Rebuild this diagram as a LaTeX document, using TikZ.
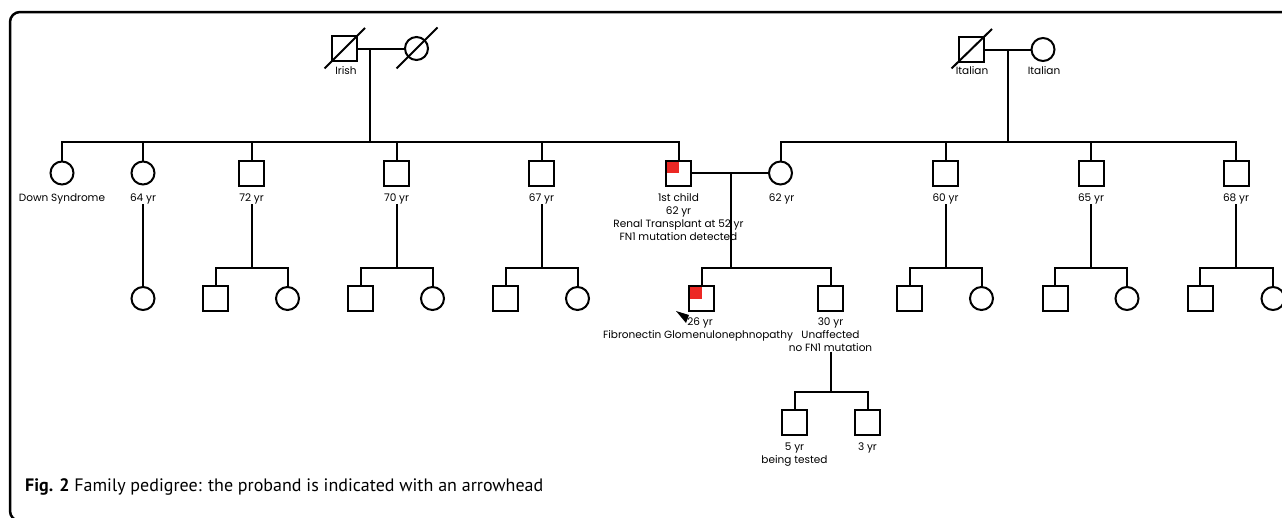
\documentclass[tikz,border=0pt]{standalone}
\usepackage{fontspec}
\setmainfont{Poppins}
\newfontfamily\capfont{PT Sans}
\usetikzlibrary{calc}
\definecolor{pedred}{RGB}{236,40,36}
\begin{document}
\begin{tikzpicture}[x=1pt,y=-1pt,
  conn/.style={line width=2pt},
  male/.style={draw,line width=2pt,rectangle,minimum size=25pt,inner sep=0pt,outer sep=0pt},
  female/.style={draw,line width=2pt,circle,minimum size=23pt,inner sep=0pt,outer sep=0pt},
  affq/.style={path picture={\fill[pedred] (path picture bounding box.north west) rectangle (path picture bounding box.center);}},
  lbl/.style={font=\fontsize{10.5}{13}\selectfont,inner sep=0pt,align=center,anchor=base},
]
\useasboundingbox (0,0) rectangle (1282,517);
\clip (0,0) rectangle (1282,517);
\fill[white] (0,0) rectangle (1282,517);
% frame
\draw[line width=2.5pt,rounded corners=10pt] (1300,521) -- (10,521) -- (10,12) -- (1300,12);

% generation I
\node[male] (IrM) at (344.5,48.5) {};
\node[female] (IrF) at (416.5,48.5) {};
\draw[conn] ($(IrM)+(-20,20)$) -- ($(IrM)+(20.5,-20.5)$);
\draw[conn] ($(IrF)+(-20,20)$) -- ($(IrF)+(21,-21)$);
\node[lbl] (lIr) at (346,74.5) {Irish};
\draw[conn] (IrM) -- (IrF);
\coordinate (IrC) at (370,48.5);

\node[male] (ItM) at (971.5,49.5) {};
\node[female] (ItF) at (1043,49.5) {};
\draw[conn] ($(ItM)+(-20,19)$) -- ($(ItM)+(20.5,-20.5)$);
\node[lbl] (lIt1) at (972,74.5) {Italian};
\node[lbl] (lIt2) at (1044,74.5) {Italian};
\draw[conn] (ItM) -- (ItF);
\coordinate (ItC) at (1008,49.5);

% generation II
\coordinate (s1) at (0,142);
\node[female] (c1) at (62,173) {};
\node[female] (c2) at (143,173) {};
\node[male] (c3) at (251.5,173) {};
\node[male] (c4) at (396.5,173) {};
\node[male] (c5) at (541.5,173) {};
\node[male,affq] (c6) at (678.5,173) {};
\node[female] (sp) at (780.5,173) {};
\node[male] (c7) at (945.5,173) {};
\node[male] (c8) at (1091,173) {};
\node[male] (c9) at (1236,173) {};

\draw[conn] (IrC) -- (IrC|-s1);
\draw[conn] (c1.north) -- (c1.north|-s1) -- (c6.north|-s1) -- (c6.north);
\foreach \n in {c2,c3,c4,c5} \draw[conn] (\n.north) -- (\n.north|-s1);
\draw[conn] (ItC) -- (ItC|-s1);
\draw[conn] (sp.north) -- (sp.north|-s1) -- (c9.north|-s1) -- (c9.north);
\foreach \n in {c7,c8} \draw[conn] (\n.north) -- (\n.north|-s1);
\draw[conn] (c6) -- (sp);
\coordinate (m1) at (731,173);

\node[lbl] (l1) at (62,201.5) {Down Syndrome};
\node[lbl] (l2) at (143,201.5) {64 yr};
\node[lbl] (l3) at (251.5,201.5) {72 yr};
\node[lbl] (l4) at (396.5,201.5) {70 yr};
\node[lbl] (l5) at (541.5,201.5) {67 yr};
\node[lbl] (l6) at (678.5,240.5) {1st child\\62 yr\\Renal Transplant at 52 yr\\FN1 mutation detected};
\node[lbl] (lsp) at (781.5,201.5) {62 yr};
\node[lbl] (l7) at (945.5,201.5) {60 yr};
\node[lbl] (l8) at (1091,201.5) {65 yr};
\node[lbl] (l9) at (1236,201.5) {68 yr};

% generation III
\coordinate (s2) at (0,268);
\node[female] (g2) at (143,298.5) {};
\node[male] (g3a) at (215.5,298.5) {};
\node[female] (g3b) at (287.5,298.5) {};
\node[male] (g4a) at (360.5,298.5) {};
\node[female] (g4b) at (432.5,298.5) {};
\node[male] (g5a) at (505.5,298.5) {};
\node[female] (g5b) at (577.5,298.5) {};
\node[male,affq] (p) at (701.5,298.5) {};
\node[male] (u) at (830.5,298.5) {};
\node[male] (g7a) at (909.5,298.5) {};
\node[female] (g7b) at (981.5,298.5) {};
\node[male] (g8a) at (1055,298.5) {};
\node[female] (g8b) at (1127,298.5) {};
\node[male] (g9a) at (1200,298.5) {};
\node[female] (g9b) at (1273,298.5) {};

\draw[conn] (l2.south-|c2) -- (g2.north);
\foreach \a/\b/\c/\l in {c3/g3a/g3b/l3,c4/g4a/g4b/l4,c5/g5a/g5b/l5,c7/g7a/g7b/l7,c8/g8a/g8b/l8,c9/g9a/g9b/l9}{
  \draw[conn] (\l.south-|\a) -- (\a|-s2);
  \draw[conn] (\b.north) -- (\b.north|-s2) -- (\c.north|-s2) -- (\c.north);
}
\draw[conn] (m1) -- (m1|-s2);
\draw[conn] (p.north) -- (p.north|-s2) -- (u.north|-s2) -- (u.north);

% proband arrow
\fill (676,311) -- (689,315) -- (686,323) -- cycle;

\node[lbl] (lp1) at (700,325.5) {26 yr};
\node[lbl] (lp2) at (698,338.5) {Fibronectin Glomenulonephnopathy};
\node[lbl] (lu) at (830.5,351.5) {30 yr\\Unaffected\\no FN1 mutation};

% generation IV
\coordinate (s3) at (0,392);
\node[male] (h1) at (794.5,422.5) {};
\node[male] (h2) at (867.5,422.5) {};
\draw[conn] (lu.south-|u) -- (u|-s3);
\draw[conn] (h1.north) -- (h1.north|-s3) -- (h2.north|-s3) -- (h2.north);
\node[lbl] (lh1) at (794.5,463.5) {5 yr\\being tested};
\node[lbl] (lh2) at (867.5,450.5) {3 yr};

% caption
\node[font=\capfont\fontsize{18}{21}\selectfont,anchor=base west,inner sep=0pt] (cap) at (25,491) {\textbf{Fig. 2} Family pedigree: the proband is indicated with an arrowhead};
\end{tikzpicture}
\end{document}
